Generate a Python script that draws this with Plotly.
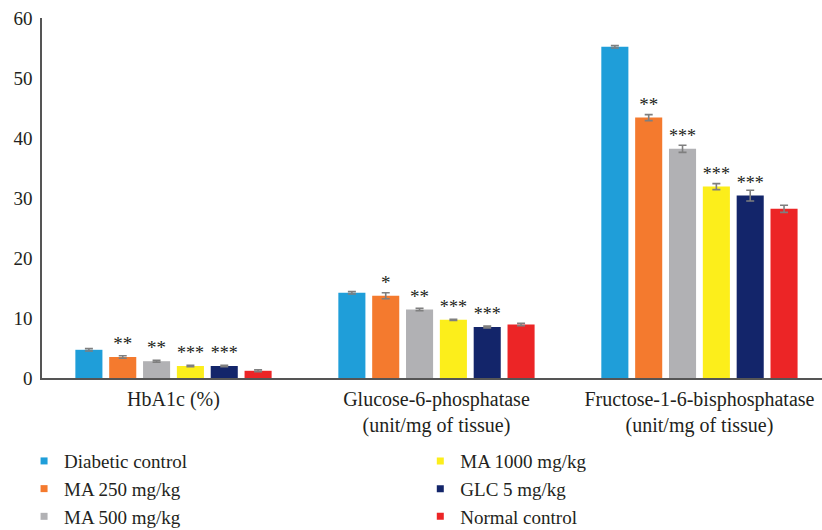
import plotly.graph_objects as go

# Parameters measured in each group
categories = [
    "HbA1c (%)",
    "Glucose-6-phosphatase<br>(unit/mg of tissue)",
    "Fructose-1-6-bisphosphatase<br>(unit/mg of tissue)",
]

group_names = [
    "Diabetic control",
    "MA 250 mg/kg",
    "MA 500 mg/kg",
    "MA 1000 mg/kg",
    "GLC 5 mg/kg",
    "Normal control",
]

# Mean values per group, one entry per parameter
diabetic_control = [4.7, 14.2, 55.2]
ma_250 = [3.5, 13.7, 43.4]
ma_500 = [2.8, 11.4, 38.2]
ma_1000 = [2.0, 9.7, 31.9]
glc_5 = [2.0, 8.5, 30.4]
normal_control = [1.2, 8.9, 28.2]

# Standard errors
diabetic_control_err = [0.2, 0.2, 0.2]
ma_250_err = [0.2, 0.5, 0.5]
ma_500_err = [0.15, 0.2, 0.6]
ma_1000_err = [0.1, 0.1, 0.5]
glc_5_err = [0.1, 0.15, 0.9]
normal_control_err = [0.15, 0.2, 0.6]

# Significance markers versus diabetic control
diabetic_control_sig = ["", "", ""]
ma_250_sig = ["**", "*", "**"]
ma_500_sig = ["**", "**", "***"]
ma_1000_sig = ["***", "***", "***"]
glc_5_sig = ["***", "***", "***"]
normal_control_sig = ["", "", ""]

colors = ["#1F9ED9", "#F47A2E", "#B1B1B4", "#FCEE1B", "#13256A", "#EC2526"]

values = [diabetic_control, ma_250, ma_500, ma_1000, glc_5, normal_control]
errors = [diabetic_control_err, ma_250_err, ma_500_err, ma_1000_err,
          glc_5_err, normal_control_err]
sigs = [diabetic_control_sig, ma_250_sig, ma_500_sig, ma_1000_sig,
        glc_5_sig, normal_control_sig]

FONT = "Liberation Serif"
TEXT = "#231F20"

fig = go.Figure()
xpos = list(range(len(categories)))

for name, vals, errs, sig, col in zip(group_names, values, errors, sigs, colors):
    fig.add_trace(go.Bar(
        x=xpos, y=vals, name=name,
        marker=dict(color=col, line=dict(width=0)),
        error_y=dict(type="data", array=errs, visible=True,
                     color="#7F7F7F", thickness=1.6, width=4),
        text=sig, textposition="outside",
        textfont=dict(family=FONT, size=19, color=TEXT),
        cliponaxis=False, showlegend=False,
    ))

# Legend entries with small square swatches, split in two columns
legend_of = ["legend", "legend", "legend", "legend2", "legend2", "legend2"]
for name, col, lg in zip(group_names, colors, legend_of):
    fig.add_trace(go.Scatter(
        x=[None], y=[None], mode="markers", name=name,
        marker=dict(symbol="square", size=7, color=col),
        legend=lg, showlegend=True,
    ))

legend_style = dict(
    orientation="v", yanchor="top", y=-0.178,
    font=dict(family=FONT, size=19, color=TEXT),
    bgcolor="rgba(0,0,0,0)", itemwidth=30,
    tracegroupgap=0,
)

fig.update_layout(
    width=822, height=530,
    margin=dict(l=42, r=0, t=18, b=152, autoexpand=False),
    paper_bgcolor="white", plot_bgcolor="white",
    barmode="group", bargap=0.228, bargroupgap=0.2,
    font=dict(family=FONT, color=TEXT),
    legend=dict(x=-0.023, xanchor="left", **legend_style),
    legend2=dict(x=0.485, xanchor="left", **legend_style),
    xaxis=dict(
        tickmode="array", tickvals=xpos, ticktext=categories,
        range=[-0.5, 2.466], showline=True, linecolor="#555555",
        linewidth=1.5, ticks="", showgrid=False, zeroline=False,
        tickfont=dict(family=FONT, size=20, color=TEXT),
        ticklabelstandoff=2,
    ),
    yaxis=dict(
        range=[0, 60], tickvals=[0, 10, 20, 30, 40, 50, 60],
        showline=True, linecolor="#555555", linewidth=1.5,
        ticks="", showgrid=False, zeroline=False,
        tickfont=dict(family=FONT, size=19, color=TEXT),
        ticklabelstandoff=4,
    ),
)

fig.write_html("out.html")
